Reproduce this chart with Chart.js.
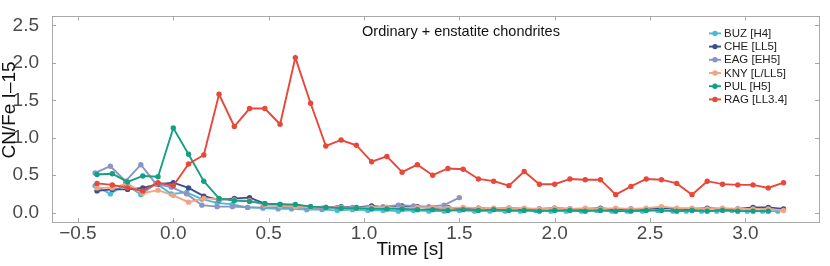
<!DOCTYPE html>
<html>
<head>
<meta charset="utf-8">
<script src="https://cdn.jsdelivr.net/npm/chart.js@4/dist/chart.umd.min.js"></script>
<style>
  body { margin: 0; background: #fff; }
  canvas { display: block; }
</style>
</head>
<body>
<canvas id="chart" width="830" height="266"></canvas>
<script>
// Time axes (s) - two sampling grids
const timesA = [-0.40, -0.32, -0.24, -0.16, -0.08, 0.00, 0.08, 0.16, 0.24, 0.32, 0.40, 0.48, 0.56, 0.64, 0.72, 0.80,
  0.88, 0.96, 1.04, 1.12, 1.20, 1.28, 1.36, 1.44, 1.52, 1.60, 1.68, 1.76, 1.84, 1.92, 2.00, 2.08, 2.16, 2.24,
  2.32, 2.40, 2.48, 2.56, 2.64, 2.72, 2.80, 2.88, 2.96, 3.04, 3.12, 3.20];
const timesB = [-0.41, -0.33, -0.25, -0.17, -0.09, -0.01, 0.07, 0.15, 0.23, 0.31, 0.39, 0.47, 0.55, 0.62, 0.70, 0.78,
  0.86, 0.94, 1.02, 1.10, 1.18, 1.26, 1.34, 1.42, 1.50, 1.58, 1.66, 1.74, 1.82, 1.90, 1.98, 2.06, 2.14, 2.22,
  2.30, 2.38, 2.46, 2.54, 2.62, 2.69, 2.77, 2.85, 2.93, 3.01, 3.09, 3.17];

// CN/Fe I-15 values per meteorite
const buz = [0.36, 0.25, 0.38, 0.24, 0.39, 0.25, 0.27, 0.18, 0.13, 0.11, 0.07, 0.06, 0.05, 0.05, 0.04, 0.04,
  0.03, 0.04, 0.03, 0.03, 0.02, 0.03, 0.02, 0.02, 0.03, 0.02, 0.02, 0.02, 0.02, 0.03, 0.02, 0.02, 0.02, 0.03,
  0.02, 0.02, 0.02, 0.03, 0.02, 0.02, 0.02, 0.02, 0.03, 0.02, 0.02, 0.02];
const che = [0.29, 0.31, 0.31, 0.33, 0.38, 0.40, 0.33, 0.22, 0.17, 0.19, 0.20, 0.12, 0.11, 0.10, 0.08, 0.07,
  0.08, 0.07, 0.09, 0.07, 0.09, 0.08, 0.06, 0.07, 0.05, 0.06, 0.05, 0.06, 0.05, 0.05, 0.06, 0.05, 0.05, 0.06,
  0.04, 0.05, 0.05, 0.06, 0.05, 0.05, 0.06, 0.05, 0.05, 0.07, 0.07, 0.05];
const eag = [0.53, 0.62, 0.42, 0.64, 0.38, 0.34, 0.25, 0.10, 0.08, 0.08, 0.07, 0.07, 0.07, 0.07, 0.06, 0.06,
  0.07, 0.07, 0.07, 0.08, 0.10, 0.09, 0.08, 0.10, 0.20];
const kny = [0.33, 0.33, 0.39, 0.26, 0.30, 0.23, 0.14, 0.19, 0.18, 0.17, 0.16, 0.10, 0.09, 0.08, 0.07, 0.07,
  0.07, 0.06, 0.07, 0.07, 0.06, 0.07, 0.07, 0.06, 0.07, 0.06, 0.06, 0.06, 0.06, 0.05, 0.06, 0.05, 0.06, 0.05,
  0.06, 0.05, 0.06, 0.08, 0.06, 0.06, 0.05, 0.06, 0.05, 0.05, 0.05, 0.03];
const pul = [0.51, 0.52, 0.41, 0.49, 0.48, 1.13, 0.78, 0.42, 0.19, 0.16, 0.15, 0.12, 0.11, 0.11, 0.08, 0.07,
  0.06, 0.06, 0.05, 0.05, 0.05, 0.04, 0.04, 0.03, 0.04, 0.03, 0.04, 0.03, 0.03, 0.02, 0.03, 0.03, 0.02, 0.03,
  0.02, 0.02, 0.03, 0.03, 0.02, 0.03, 0.02, 0.03, 0.02, 0.02, 0.02];
const rag = [0.39, 0.37, 0.33, 0.29, 0.40, 0.36, 0.65, 0.77, 1.58, 1.15, 1.39, 1.39, 1.18, 2.07, 1.46, 0.89,
  0.97, 0.90, 0.68, 0.75, 0.54, 0.64, 0.50, 0.59, 0.58, 0.45, 0.42, 0.36, 0.55, 0.38, 0.38, 0.45, 0.44, 0.44,
  0.24, 0.35, 0.45, 0.44, 0.39, 0.24, 0.42, 0.38, 0.37, 0.37, 0.33, 0.40];

const labels = ["BUZ [H4]", "CHE [LL5]", "EAG [EH5]", "KNY [L/LL5]", "PUL [H5]", "RAG [LL3.4]"];
const colors = ["#4cb9d8", "#3b4e8d", "#8b95c3", "#f3a382", "#13a083", "#e8473a"];

const xTicks = [-0.5, 0.0, 0.5, 1.0, 1.5, 2.0, 2.5, 3.0];
const yTicks = [0.0, 0.5, 1.0, 1.5, 2.0, 2.5];

const spineColor = "#a8a8a8";
const tickColor = "#4a4a4a";
const fontFamily = "'Liberation Sans', Arial, sans-serif";

function toPoints(times, values) {
    return values.map((v, i) => ({ x: times[i], y: v }));
}

const seriesData = [
    toPoints(timesB, buz),
    toPoints(timesA, che),
    toPoints(timesB, eag),
    toPoints(timesA, kny),
    toPoints(timesA, pul),
    toPoints(timesA, rag)
];

const datasets = seriesData.map((pts, i) => ({
    label: labels[i],
    data: pts,
    borderColor: colors[i],
    backgroundColor: colors[i],
    borderWidth: 1.9,
    pointRadius: 2.7,
    pointBorderWidth: 0,
    tension: 0,
    order: labels.length - 1 - i   // last series drawn on top
}));

function fmt(v) {
    return v.toFixed(1).replace("-", "\u2212");
}

// frame, inward ticks, x tick labels, axis titles, panel title and legend
const decorations = {
    id: "decorations",
    afterDraw(chart) {
        const c = chart.ctx;
        const a = chart.chartArea;
        const xs = chart.scales.x;
        const ys = chart.scales.y;
        c.save();
        c.strokeStyle = spineColor;
        c.lineWidth = 1;
        c.strokeRect(Math.round(a.left) + 0.5, Math.round(a.top) + 0.5,
            Math.round(a.right - a.left), Math.round(a.bottom - a.top));
        c.beginPath();
        xTicks.forEach(v => {
            const px = Math.round(xs.getPixelForValue(v)) + 0.5;
            c.moveTo(px, a.bottom); c.lineTo(px, a.bottom - 4);
            c.moveTo(px, a.top); c.lineTo(px, a.top + 4);
        });
        yTicks.forEach(v => {
            const py = Math.round(ys.getPixelForValue(v)) + 0.5;
            c.moveTo(a.left, py); c.lineTo(a.left + 4, py);
            c.moveTo(a.right, py); c.lineTo(a.right - 4, py);
        });
        c.stroke();

        // x tick labels
        c.fillStyle = tickColor;
        c.font = "19px " + fontFamily;
        c.textAlign = "center";
        c.textBaseline = "middle";
        xTicks.forEach(v => {
            c.fillText(fmt(v), xs.getPixelForValue(v), a.bottom + 12);
        });

        // axis titles
        c.fillStyle = "#111";
        c.fillText("Time [s]", 410, 250);
        c.save();
        c.translate(10, 110);
        c.rotate(-Math.PI / 2);
        c.fillText("CN/Fe I\u201315", 0, 0);
        c.restore();

        // panel title
        c.font = "14.5px " + fontFamily;
        c.fillText("Ordinary + enstatite chondrites", a.left + 409, a.top + 16);

        // legend
        c.font = "11.5px " + fontFamily;
        c.textAlign = "left";
        labels.forEach((lab, i) => {
            const y = a.top + 17 + i * 13.2;
            const x0 = a.right - 110;
            c.strokeStyle = colors[i];
            c.lineWidth = 1.9;
            c.beginPath();
            c.moveTo(x0, y); c.lineTo(x0 + 12, y);
            c.stroke();
            c.fillStyle = colors[i];
            c.beginPath();
            c.arc(x0 + 6, y, 2.7, 0, Math.PI * 2);
            c.fill();
            c.fillStyle = "#222";
            c.fillText(lab, x0 + 15, y + 0.5);
        });
        c.restore();
    }
};

const ctx = document.getElementById("chart").getContext("2d");
new Chart(ctx, {
    type: "line",
    data: { datasets: datasets },
    options: {
        responsive: false,
        animation: false,
        layout: { padding: { top: 9, right: 11, bottom: 0, left: 0 } },
        scales: {
            x: {
                type: "linear",
                min: -0.636,
                max: 3.386,
                afterBuildTicks: s => { s.ticks = xTicks.map(v => ({ value: v })); },
                afterFit: s => { s.height = 44; },
                grid: { display: false },
                border: { display: false },
                ticks: { display: false }
            },
            y: {
                type: "linear",
                min: -0.125,
                max: 2.62,
                afterBuildTicks: s => { s.ticks = yTicks.map(v => ({ value: v })); },
                afterFit: s => { s.width = 52; },
                grid: { display: false },
                border: { display: false },
                ticks: {
                    color: tickColor,
                    padding: 5,
                    font: { family: fontFamily, size: 19 },
                    callback: v => fmt(v)
                }
            }
        },
        plugins: {
            legend: { display: false },
            tooltip: { enabled: false }
        }
    },
    plugins: [decorations]
});
</script>
</body>
</html>
